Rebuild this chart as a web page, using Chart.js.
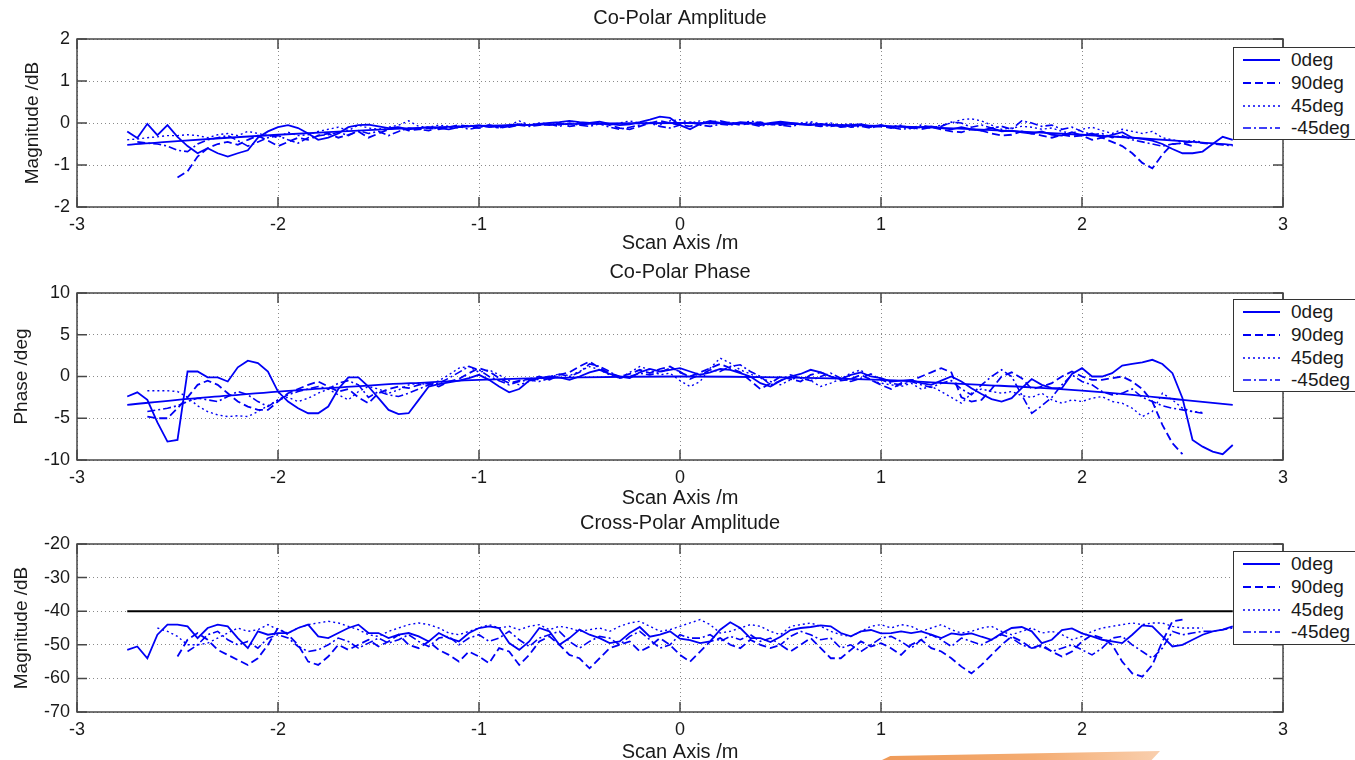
<!DOCTYPE html>
<html>
<head>
<meta charset="utf-8">
<title>Co-Polar / Cross-Polar scans</title>
<script src="https://cdn.jsdelivr.net/npm/chart.js@4.4.1/dist/chart.umd.min.js"></script>
<style>
  html, body { margin: 0; padding: 0; background: #fff; }
  body { width: 1355px; height: 760px; overflow: hidden; position: relative;
         font-family: "Liberation Sans", Arial, sans-serif; }
  canvas { position: absolute; left: 0; }
  .legend { position: absolute; left: 1233px; width: 140px; box-sizing: border-box;
            border: 1px solid #333; background: #fff; padding-top: 1px; }
  .legend .row { height: 22.7px; display: flex; align-items: center; font-size: 19px; color: #1a1a1a; }
  .legend svg { margin-left: 9px; margin-right: 11px; flex: none; }
  .swoosh { position: absolute; left: 882px; top: 751px; width: 278px; height: 9px;
            background: linear-gradient(90deg, #ef9a58, #f4ac72 55%, #f9cfae);
            clip-path: polygon(0 100%, 3% 55%, 100% 0, 97% 100%); }
</style>
</head>
<body>
<canvas id="ampChart" width="1355" height="255" style="top:0px"></canvas>
<canvas id="phaseChart" width="1355" height="255" style="top:255px"></canvas>
<canvas id="crossChart" width="1355" height="260" style="top:510px"></canvas>
<div class="swoosh"></div>
<script>
// scan positions (m), shared by every measured trace
const scanX = [
  -2.75,-2.7,-2.65,-2.6,-2.55,-2.5,-2.45,-2.4,-2.35,-2.3,
  -2.25,-2.2,-2.15,-2.1,-2.05,-2,-1.95,-1.9,-1.85,-1.8,
  -1.75,-1.7,-1.65,-1.6,-1.55,-1.5,-1.45,-1.4,-1.35,-1.3,
  -1.25,-1.2,-1.15,-1.1,-1.05,-1,-0.95,-0.9,-0.85,-0.8,
  -0.75,-0.7,-0.65,-0.6,-0.55,-0.5,-0.45,-0.4,-0.35,-0.3,
  -0.25,-0.2,-0.15,-0.1,-0.05,0,0.05,0.1,0.15,0.2,
  0.25,0.3,0.35,0.4,0.45,0.5,0.55,0.6,0.65,0.7,
  0.75,0.8,0.85,0.9,0.95,1,1.05,1.1,1.15,1.2,
  1.25,1.3,1.35,1.4,1.45,1.5,1.55,1.6,1.65,1.7,
  1.75,1.8,1.85,1.9,1.95,2,2.05,2.1,2.15,2.2,
  2.25,2.3,2.35,2.4,2.45,2.5,2.55,2.6,2.65,2.7,
  2.75
];

// Co-Polar Amplitude (dB)
const amp0 = [
  -0.20,-0.36,-0.02,-0.29,-0.05,-0.33,-0.55,-0.72,-0.60,-0.72,
  -0.80,-0.72,-0.65,-0.35,-0.20,-0.10,-0.05,-0.12,-0.25,-0.40,
  -0.35,-0.25,-0.10,-0.05,-0.04,-0.08,-0.12,-0.10,-0.15,-0.12,
  -0.10,-0.12,-0.15,-0.10,-0.08,-0.05,-0.10,-0.08,-0.05,-0.03,
  -0.05,-0.02,0.00,0.02,0.05,0.02,0.00,0.03,-0.02,-0.05,
  -0.03,0.02,0.08,0.15,0.12,-0.05,-0.15,-0.02,0.05,0.00,
  -0.03,0.02,0.00,-0.05,0.00,0.03,0.00,-0.03,-0.05,-0.02,
  -0.05,-0.08,-0.05,-0.03,-0.08,-0.05,-0.10,-0.08,-0.12,-0.10,
  -0.08,-0.12,-0.15,-0.10,-0.15,-0.18,-0.12,-0.20,-0.18,-0.22,
  -0.25,-0.20,-0.28,-0.30,-0.22,-0.30,-0.25,-0.35,-0.28,-0.22,
  -0.35,-0.38,-0.42,-0.50,-0.62,-0.72,-0.72,-0.68,-0.50,-0.33,
  -0.40
];
const amp90 = [
  null,null,null,null,null,-1.30,-1.15,-0.80,-0.60,-0.50,
  -0.45,-0.52,-0.40,-0.30,-0.42,-0.55,-0.45,-0.35,-0.40,-0.30,
  -0.25,-0.35,-0.28,-0.20,-0.35,-0.25,-0.15,-0.10,-0.18,-0.15,
  -0.12,-0.15,-0.10,-0.05,-0.08,-0.12,-0.05,-0.08,-0.10,-0.05,
  -0.05,-0.03,-0.05,0.00,-0.08,-0.05,-0.03,0.00,-0.05,-0.12,
  -0.15,-0.08,0.00,0.05,0.00,-0.05,-0.08,-0.02,0.02,0.05,
  0.00,-0.05,0.00,0.02,-0.03,-0.05,0.00,-0.02,-0.05,-0.08,
  -0.05,-0.10,-0.08,-0.05,-0.10,-0.08,-0.12,-0.08,-0.10,-0.15,
  -0.10,-0.15,-0.20,-0.22,-0.15,-0.18,-0.25,-0.30,-0.28,-0.20,
  -0.25,-0.30,-0.35,-0.28,-0.32,-0.30,-0.40,-0.35,-0.45,-0.55,
  -0.72,-0.95,-1.08,-0.75,-0.50,-0.48,-0.55,null,null,null,
  null
];
const amp45 = [
  -0.40,-0.38,-0.35,-0.33,-0.30,-0.30,-0.28,-0.30,-0.35,-0.28,
  -0.25,-0.30,-0.20,-0.25,-0.30,-0.35,-0.22,-0.30,-0.28,-0.20,
  -0.15,-0.10,-0.18,-0.05,-0.12,-0.15,-0.10,-0.05,0.05,-0.08,
  -0.10,-0.05,-0.08,-0.12,-0.05,-0.10,-0.08,-0.12,-0.05,0.05,
  -0.05,0.00,-0.02,-0.05,0.05,0.00,-0.03,0.02,-0.05,0.00,
  0.05,0.00,0.02,-0.05,0.05,0.08,0.00,0.05,-0.02,0.00,
  0.02,-0.03,0.05,0.00,-0.05,0.02,-0.03,0.00,0.03,-0.02,
  0.00,-0.05,-0.02,-0.05,-0.10,-0.05,-0.08,-0.05,-0.15,-0.10,
  -0.12,-0.05,0.00,0.08,0.10,0.05,-0.05,-0.15,-0.12,-0.08,
  -0.10,-0.15,-0.12,-0.20,-0.25,-0.15,-0.10,-0.18,-0.25,-0.15,
  -0.20,-0.25,-0.20,-0.35,-0.40,-0.45,-0.42,-0.45,null,null,
  null
];
const ampM45 = [
  null,-0.45,-0.48,-0.50,-0.55,-0.65,-0.68,-0.50,-0.40,-0.35,
  -0.30,-0.42,-0.55,-0.45,-0.35,-0.30,-0.40,-0.48,-0.35,-0.30,
  -0.28,-0.22,-0.30,-0.18,-0.25,-0.20,-0.30,-0.20,-0.12,-0.15,
  -0.18,-0.10,-0.12,-0.08,-0.15,-0.10,-0.05,-0.12,-0.08,-0.05,
  -0.08,-0.05,-0.03,-0.08,0.00,-0.05,-0.08,-0.02,-0.10,-0.15,
  -0.10,-0.05,0.00,-0.08,-0.12,-0.05,0.02,-0.05,-0.08,-0.03,
  -0.05,0.00,-0.03,-0.08,-0.02,-0.05,-0.08,-0.03,0.00,-0.05,
  -0.08,-0.03,-0.10,-0.08,-0.12,-0.05,-0.10,-0.15,-0.12,-0.05,
  -0.10,-0.08,0.02,0.00,-0.10,-0.05,-0.12,-0.08,-0.15,0.05,
  0.00,-0.08,-0.05,-0.15,-0.10,-0.20,-0.28,-0.25,-0.35,-0.30,
  -0.40,-0.45,-0.50,-0.55,-0.50,-0.48,-0.45,-0.48,-0.50,-0.52,
  -0.54
];
// smooth reference trace drawn under the amplitude data
const ampRefX = [-2.75,-2.5,-2,-1.5,-1,-0.5,0,0.5,1,1.5,2,2.5,2.75];
const ampRefY = [-0.52,-0.43,-0.28,-0.16,-0.07,-0.02,0,-0.02,-0.07,-0.16,-0.28,-0.43,-0.52];

// Co-Polar Phase (deg)
const phase0 = [
  -2.4,-1.9,-2.8,-5.5,-7.8,-7.6,0.6,0.6,-0.1,-0.1,
  -0.6,1.1,1.9,1.6,0.6,-1.8,-3.0,-3.8,-4.4,-4.4,
  -3.6,-1.5,-0.1,-0.1,-1.2,-2.6,-4.0,-4.5,-4.4,-2.8,
  -1.2,-0.9,-0.7,-0.5,-0.2,0.2,-0.4,-1.2,-1.9,-1.5,
  -0.5,-0.2,0.0,-0.1,-0.4,0.0,0.5,0.8,0.3,0.0,
  -0.2,0.5,0.9,0.6,0.8,1.0,0.6,0.2,0.5,0.9,
  0.8,0.4,0.0,-0.8,-1.2,-0.5,0.0,0.3,0.8,0.5,
  0.0,-0.3,0.2,0.5,0.0,-0.2,-0.6,-0.5,-0.4,-0.8,
  -1.0,-0.5,0.0,-0.6,-1.4,-2.1,-2.7,-3.0,-2.6,-1.4,
  -0.3,-1.0,-1.4,-1.4,0.3,1.0,0.0,0.0,0.4,1.3,
  1.5,1.7,2.0,1.5,0.4,-2.6,-7.6,-8.4,-9.0,-9.3,
  -8.2
];
const phase90 = [
  null,null,-4.8,-5.0,-5.0,-3.8,-2.5,-1.0,-0.5,-1.0,
  -2.0,-3.0,-3.6,-4.0,-4.0,-3.0,-2.0,-1.5,-1.0,-0.6,
  -1.2,-1.8,-1.5,-2.5,-3.2,-2.0,-1.5,-1.2,-1.4,-1.0,
  -0.8,-1.2,-0.6,-0.3,0.4,1.0,0.6,-0.2,-0.8,-0.5,
  -0.3,0.0,-0.4,0.2,0.5,1.2,1.8,1.0,0.4,0.0,
  0.3,0.8,0.4,0.9,1.2,0.5,0.0,0.5,1.0,1.5,
  1.0,0.5,-0.5,-1.5,-0.8,0.0,-0.3,-0.6,0.2,0.5,
  0.0,-0.5,-0.3,0.2,-0.4,-1.0,-1.5,-0.8,-0.5,0.0,
  0.5,1.0,0.5,-2.5,-3.0,-2.8,-1.5,0.0,0.5,-0.2,
  -1.5,-1.2,-0.8,0.0,0.6,0.0,-0.4,-0.4,-0.2,0.0,
  -0.6,-1.5,-3.0,-5.8,-8.0,-9.3,null,null,null,null,
  null
];
const phase45 = [
  null,null,-1.7,-1.7,-1.7,-1.8,-2.5,-3.5,-4.2,-4.6,
  -4.8,-4.7,-4.8,-4.2,-3.5,-2.8,-2.5,-3.0,-2.6,-2.0,
  -1.5,-2.2,-2.8,-1.8,-1.2,-1.5,-2.0,-1.6,-1.0,-0.8,
  -1.0,-0.5,0.2,1.0,1.2,0.5,0.8,0.2,-0.5,-1.0,
  -0.6,-0.3,0.0,0.3,0.1,0.6,1.2,0.8,0.2,-0.2,
  0.5,1.2,0.8,0.2,0.4,-0.5,-1.2,-0.6,1.0,2.2,
  1.6,0.8,0.3,-0.2,-0.6,-1.0,-0.4,0.0,-0.5,-1.2,
  -0.8,-0.3,0.4,0.8,-0.5,-0.8,-1.0,-1.2,-0.8,-1.5,
  -1.2,-1.8,-2.5,-3.2,-2.0,-1.5,-1.8,-2.0,-1.8,-2.3,
  -2.5,-2.0,-2.8,-3.2,-2.8,-3.0,-2.6,-2.4,-3.0,-3.2,
  -3.8,-4.8,-4.2,-2.0,-2.8,-3.8,-4.2,-4.3,null,null,
  null
];
const phaseM45 = [
  null,null,-4.2,-4.0,-3.8,-3.5,-3.0,-2.6,-2.8,-3.0,
  -2.4,-1.8,-2.2,-3.0,-3.6,-2.8,-2.2,-1.8,-1.5,-1.2,
  -1.5,-0.8,-0.5,-1.0,-2.5,-1.8,-2.2,-2.4,-2.0,-1.5,
  -1.0,-0.8,-0.2,0.5,1.2,0.8,0.0,-0.5,-1.0,-0.6,
  -0.4,-0.6,-0.2,0.3,0.0,0.5,1.5,1.2,0.6,-0.2,
  0.0,0.4,0.2,0.5,1.0,0.6,-0.3,0.2,0.8,0.6,
  1.2,1.4,0.6,0.0,-1.0,-0.5,0.2,-0.2,-0.5,0.0,
  0.4,-0.2,-0.6,-0.2,0.3,-0.4,-0.8,-1.0,-0.6,-1.0,
  -1.3,-0.8,-0.5,-1.5,-2.2,-1.0,0.0,0.8,0.0,-2.2,
  -4.4,-3.5,-2.5,-1.0,0.2,-0.6,-1.0,-1.8,-2.2,-2.0,
  -1.5,-2.5,-3.0,-3.5,-3.8,-4.0,-4.2,-4.4,null,null,
  null
];
const phaseRefX = [-2.75,-2.5,-2.25,-2,-1.75,-1.5,-1.25,-1,-0.5,0,0.5,1,1.25,1.5,1.75,2,2.25,2.5,2.75];
const phaseRefY = [-3.4,-2.8,-2.3,-1.8,-1.4,-1.0,-0.7,-0.4,-0.1,0,-0.1,-0.4,-0.7,-1.0,-1.3,-1.7,-2.2,-2.8,-3.4];

// Cross-Polar Amplitude (dB)
const cross0 = [
  -51.5,-50.5,-54,-47,-44,-44,-44.5,-48,-45,-44,
  -44.5,-48,-51,-46,-47,-46.5,-46.5,-45,-44,-47.5,
  -48,-46.5,-45,-44,-46.5,-46.5,-48,-47,-46.5,-47.5,
  -49,-46.5,-48,-49,-46.5,-45,-44.5,-45,-49.5,-51.5,
  -49,-45,-46,-50,-48,-45.5,-47,-48,-49.5,-49,
  -46.5,-44.7,-47.6,-47,-46,-48.2,-48.6,-49.5,-49,-45.5,
  -43.3,-45,-48,-48,-49.2,-47.6,-45.6,-45,-44.7,-44.2,
  -44.5,-46.5,-47.5,-46,-45.6,-46.6,-46.5,-46,-46.5,-46,
  -47,-48,-46.6,-47,-46.6,-47.6,-48.5,-46.6,-45,-44.7,
  -46,-49.5,-48.5,-45.6,-45.1,-46.6,-47.5,-48.5,-49,-49.5,
  -47,-44.2,-44.5,-47.5,-50.5,-50,-48.5,-47,-46,-45.5,
  -44.5
];
const cross90 = [
  null,null,null,null,null,-53.5,-48.5,-46.5,-48.5,-51.5,
  -53,-54.5,-56,-54,-50,-45,-47,-50,-55,-56,
  -53.5,-50,-51.5,-50,-48.5,-50.5,-49,-47,-50,-51,
  -49,-51.5,-53,-55,-52,-53.5,-55.5,-51,-52,-56,
  -53,-49,-47.5,-50,-53,-54,-57,-54,-51,-50,
  -49,-52,-50.5,-48,-50,-53,-55,-52,-49,-48,
  -50,-51,-48.5,-50,-51,-50,-52,-50,-48,-51,
  -54,-54,-51.5,-49,-50.5,-49.5,-51,-53,-50,-48.5,
  -51,-52,-54,-56.5,-58.5,-56,-53,-50,-47.5,-49,
  -51,-50,-52,-53.5,-52,-49,-47,-48,-50,-55,
  -58.5,-59.5,-56,-49,-43,-42.5,null,null,null,null,
  null
];
const cross45 = [
  null,null,null,-45,-46,-47.5,-50,-50,-49.5,-48,
  -46.5,-45,-46,-45.5,-44,-45.5,-46.5,-45,-44,-43.5,
  -43,-43.5,-44.5,-45.5,-47,-47.5,-46,-45,-44,-43.5,
  -44,-45,-46.5,-47,-46,-45,-44,-45,-44.5,-45.5,
  -44.5,-44,-45.5,-44.5,-45,-46,-45.5,-45,-46,-44.5,
  -43.5,-43,-44.5,-46,-45.5,-44.5,-43.5,-42.5,-44,-46.5,
  -46,-45,-44,-44.5,-46,-47,-44.5,-44,-43.5,-44.5,
  -46,-47,-47.5,-46,-44.5,-44,-45,-44,-44.5,-46,
  -45,-44,-45.5,-46.5,-46,-45,-44.5,-46,-47,-46,
  -45,-46.5,-46,-47,-48.5,-47.5,-46,-45,-44.5,-44,
  -43.5,-44,-43.5,-43.5,-44.5,-45,-45,-45,null,null,
  null
];
const crossM45 = [
  null,null,null,null,null,null,-52,-50,-47,-46,
  -48.5,-50,-49,-51,-48,-47,-48,-50.5,-52,-51.5,
  -50,-48,-49,-51,-49.5,-48,-49.5,-48.5,-47,-49,
  -50.5,-48,-47.5,-50,-48,-47,-49,-48,-46,-48.5,
  -50.5,-48,-47,-46,-49,-51,-49,-47.5,-48,-50,
  -47.5,-46,-48.5,-51,-50,-47,-48,-48,-47,-49,
  -47.5,-48.5,-47,-49,-48,-50,-47.5,-46,-47,-48.5,
  -48,-51,-50,-52,-50,-48,-47.5,-49,-51,-48.5,
  -47,-48.5,-50.5,-48,-49,-50,-48.5,-47,-48,-50,
  -51,-50.5,-52,-51,-50,-51.5,-53,-51,-48,-47.5,
  -50,-52,-54,-51,-46,-47,-46.5,-46,-46,-45.5,
  -45
];
// -40 dB limit line
const limitX = [-2.75, 2.75];
const limitY = [-40, -40];

const seriesNames = ["0deg", "90deg", "45deg", "-45deg"];
const seriesDash = [[], [8, 4], [2, 3], [8, 3, 2, 3]];
const seriesWidth = [1.8, 1.8, 1.4, 1.6];
const blue = "rgb(0,0,245)";
const ink = "#1a1a1a";
const fontFamily = "'Liberation Sans', Arial, sans-serif";

function points(xs, ys) {
  return xs.map((x, i) => ({ x: x, y: ys[i] }));
}

function traces(list) {
  return list.map((ys, i) => ({
    label: seriesNames[i],
    data: points(scanX, ys),
    borderColor: blue,
    borderWidth: seriesWidth[i],
    borderDash: seriesDash[i],
  }));
}

// matlab style axes box with inward tick marks
const boxPlugin = {
  id: "matlabBox",
  afterDraw(chart) {
    const { ctx, chartArea: a, scales } = chart;
    ctx.save();
    ctx.strokeStyle = "#474747";
    ctx.lineWidth = 1.5;
    ctx.setLineDash([]);
    ctx.strokeRect(a.left, a.top, a.right - a.left, a.bottom - a.top);
    ctx.beginPath();
    scales.x.ticks.forEach((t) => {
      const px = scales.x.getPixelForValue(t.value);
      ctx.moveTo(px, a.bottom); ctx.lineTo(px, a.bottom - 10);
      ctx.moveTo(px, a.top); ctx.lineTo(px, a.top + 10);
    });
    scales.y.ticks.forEach((t) => {
      const py = scales.y.getPixelForValue(t.value);
      ctx.moveTo(a.left, py); ctx.lineTo(a.left + 10, py);
      ctx.moveTo(a.right, py); ctx.lineTo(a.right - 10, py);
    });
    ctx.stroke();
    ctx.restore();
  },
};

function makeChart(id, cfg) {
  return new Chart(document.getElementById(id), {
    type: "line",
    data: { datasets: cfg.datasets },
    options: {
      responsive: false,
      animation: false,
      devicePixelRatio: 1,
      layout: { padding: { left: 0, right: 72, top: 0, bottom: 0 } },
      elements: { point: { radius: 0 }, line: { tension: 0, fill: false } },
      plugins: {
        legend: { display: false },
        tooltip: { enabled: false },
        title: {
          display: true,
          fullSize: false,
          text: cfg.title,
          color: ink,
          font: { family: fontFamily, size: 20, weight: "normal", lineHeight: 1.2 },
          padding: cfg.titlePad,
        },
      },
      scales: {
        x: {
          type: "linear",
          min: -3,
          max: 3,
          ticks: { stepSize: 1, color: ink, padding: 7, maxRotation: 0,
                   font: { family: fontFamily, size: 18 } },
          grid: { color: "#8a8a8a", lineWidth: 1, drawTicks: false },
          border: { display: false, dash: [1, 3] },
          title: { display: true, text: "Scan Axis /m", color: ink,
                   font: { family: fontFamily, size: 20, lineHeight: 1.2 },
                   padding: { top: 0, bottom: cfg.xTitlePad } },
          afterFit: function (scale) { scale.height = cfg.xHeight; },
        },
        y: {
          type: "linear",
          min: cfg.yMin,
          max: cfg.yMax,
          ticks: { stepSize: cfg.yStep, color: ink, padding: 7,
                   font: { family: fontFamily, size: 18 } },
          grid: { color: "#8a8a8a", lineWidth: 1, drawTicks: false },
          border: { display: false, dash: [1, 3] },
          title: { display: true, text: cfg.yTitle, color: ink,
                   font: { family: fontFamily, size: 19, lineHeight: 1.2 },
                   padding: { top: cfg.yTitlePad, bottom: 0 } },
          afterFit: function (scale) { scale.width = 77; },
        },
      },
    },
    plugins: [boxPlugin],
  });
}

function addLegend(top, height) {
  const box = document.createElement("div");
  box.className = "legend";
  box.style.top = top + "px";
  box.style.height = height + "px";
  seriesNames.forEach((name, i) => {
    const row = document.createElement("div");
    row.className = "row";
    row.innerHTML =
      '<svg width="37" height="6"><line x1="0" y1="3" x2="37" y2="3" stroke="' + blue +
      '" stroke-width="' + seriesWidth[i] + '" stroke-dasharray="' +
      (seriesDash[i].length ? seriesDash[i].join(" ") : "none") + '"/></svg>';
    const label = document.createElement("span");
    label.textContent = name;
    row.appendChild(label);
    box.appendChild(row);
  });
  document.body.appendChild(box);
}

makeChart("ampChart", {
  title: "Co-Polar Amplitude",
  titlePad: { top: 6, bottom: 9 },
  yTitle: "Magnitude /dB",
  yTitlePad: 21.6,
  yMin: -2, yMax: 2, yStep: 1,
  xHeight: 48, xTitlePad: 0,
  datasets: traces([amp0, amp90, amp45, ampM45]).concat([
    { label: "ref", data: points(ampRefX, ampRefY), borderColor: blue, borderWidth: 1.8, tension: 0.4 },
  ]),
});

makeChart("phaseChart", {
  title: "Co-Polar Phase",
  titlePad: { top: 5, bottom: 9 },
  yTitle: "Phase /deg",
  yTitlePad: 10.6,
  yMin: -10, yMax: 10, yStep: 5,
  xHeight: 50, xTitlePad: 0,
  datasets: traces([phase0, phase90, phase45, phaseM45]).concat([
    { label: "ref", data: points(phaseRefX, phaseRefY), borderColor: blue, borderWidth: 1.8, tension: 0.4 },
  ]),
});

makeChart("crossChart", {
  title: "Cross-Polar Amplitude",
  titlePad: { top: 1, bottom: 9 },
  yTitle: "Magnitude /dB",
  yTitlePad: 10.6,
  yMin: -70, yMax: -20, yStep: 10,
  xHeight: 58, xTitlePad: 6,
  datasets: traces([cross0, cross90, cross45, crossM45]).concat([
    { label: "limit", data: points(limitX, limitY), borderColor: "#000", borderWidth: 2 },
  ]),
});

addLegend(47, 93);
addLegend(299, 93);
addLegend(551, 94);
</script>
</body>
</html>
